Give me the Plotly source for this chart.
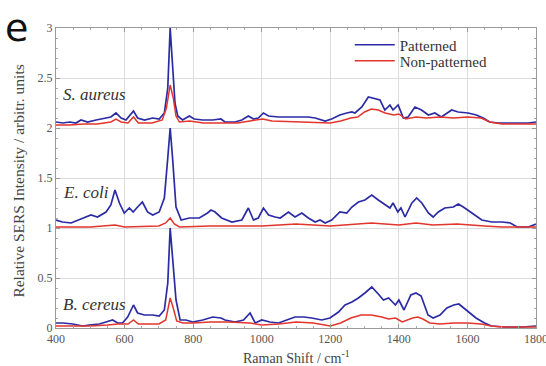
import plotly.graph_objects as go

# ---- data ----
sa_p_x = [400, 420, 440, 458, 473, 492, 517, 546, 560, 575, 590, 604, 616, 626, 638, 658, 682, 701, 716, 726, 733, 740, 747, 755, 769, 789, 803, 828, 857, 881, 893, 922, 942, 961, 976, 990, 1005, 1020, 1049, 1078, 1107, 1136, 1156, 1185, 1204, 1228, 1248, 1263, 1272, 1292, 1311, 1320, 1330, 1345, 1359, 1374, 1383, 1398, 1413, 1427, 1447, 1466, 1486, 1505, 1524, 1554, 1573, 1602, 1626, 1646, 1665, 1690, 1738, 1777, 1800]
sa_p_y = [2.06, 2.05, 2.06, 2.05, 2.08, 2.06, 2.08, 2.10, 2.11, 2.15, 2.10, 2.08, 2.13, 2.17, 2.10, 2.08, 2.10, 2.09, 2.15, 2.40, 3.00, 2.60, 2.25, 2.12, 2.08, 2.12, 2.09, 2.08, 2.08, 2.09, 2.06, 2.06, 2.08, 2.12, 2.09, 2.10, 2.15, 2.12, 2.11, 2.11, 2.11, 2.11, 2.10, 2.07, 2.09, 2.13, 2.15, 2.16, 2.15, 2.21, 2.31, 2.30, 2.29, 2.28, 2.18, 2.23, 2.18, 2.23, 2.10, 2.11, 2.21, 2.18, 2.13, 2.15, 2.11, 2.18, 2.16, 2.15, 2.13, 2.10, 2.06, 2.05, 2.05, 2.05, 2.06]

sa_n_x = [400, 440, 480, 520, 560, 575, 590, 610, 626, 640, 680, 710, 722, 733, 742, 750, 760, 790, 830, 880, 930, 965, 1003, 1030, 1100, 1150, 1200, 1230, 1260, 1280, 1300, 1320, 1340, 1360, 1385, 1400, 1420, 1450, 1480, 1520, 1560, 1600, 1640, 1665, 1700, 1750, 1800]
sa_n_y = [2.03, 2.03, 2.04, 2.04, 2.06, 2.09, 2.06, 2.05, 2.11, 2.05, 2.05, 2.08, 2.20, 2.43, 2.30, 2.12, 2.06, 2.07, 2.05, 2.05, 2.05, 2.07, 2.09, 2.07, 2.06, 2.06, 2.05, 2.07, 2.10, 2.11, 2.16, 2.19, 2.18, 2.15, 2.13, 2.14, 2.09, 2.11, 2.10, 2.11, 2.10, 2.11, 2.10, 2.06, 2.04, 2.04, 2.04]

ec_p_x = [400, 419, 444, 468, 487, 502, 521, 546, 560, 572, 585, 599, 614, 625, 638, 652, 667, 682, 701, 716, 726, 733, 740, 750, 765, 789, 818, 842, 852, 864, 883, 913, 942, 961, 976, 990, 1005, 1020, 1039, 1054, 1078, 1097, 1117, 1136, 1156, 1170, 1185, 1204, 1228, 1248, 1263, 1282, 1301, 1321, 1340, 1360, 1374, 1383, 1397, 1406, 1418, 1438, 1452, 1467, 1486, 1500, 1515, 1534, 1559, 1573, 1588, 1613, 1642, 1671, 1701, 1725, 1745, 1778, 1800]
ec_p_y = [1.08, 1.06, 1.05, 1.08, 1.11, 1.13, 1.11, 1.16, 1.23, 1.38, 1.25, 1.15, 1.20, 1.16, 1.21, 1.26, 1.16, 1.13, 1.16, 1.30, 1.70, 2.00, 1.70, 1.21, 1.08, 1.10, 1.10, 1.15, 1.18, 1.16, 1.10, 1.06, 1.08, 1.20, 1.08, 1.10, 1.20, 1.13, 1.11, 1.10, 1.16, 1.11, 1.15, 1.10, 1.06, 1.08, 1.05, 1.08, 1.16, 1.15, 1.21, 1.26, 1.28, 1.33, 1.28, 1.23, 1.20, 1.25, 1.16, 1.20, 1.11, 1.25, 1.30, 1.25, 1.15, 1.11, 1.16, 1.20, 1.21, 1.24, 1.21, 1.15, 1.08, 1.06, 1.06, 1.05, 1.01, 1.01, 1.04]

ec_n_x = [400, 500, 572, 600, 700, 720, 733, 745, 760, 850, 1000, 1100, 1200, 1320, 1400, 1450, 1500, 1570, 1650, 1700, 1800]
ec_n_y = [1.01, 1.01, 1.03, 1.01, 1.02, 1.05, 1.10, 1.04, 1.01, 1.02, 1.02, 1.04, 1.02, 1.05, 1.03, 1.05, 1.03, 1.04, 1.02, 1.01, 1.01]

bc_p_x = [400, 420, 449, 478, 497, 526, 546, 565, 580, 594, 609, 626, 638, 658, 682, 701, 716, 726, 733, 740, 750, 762, 779, 799, 828, 857, 881, 893, 922, 947, 966, 981, 1000, 1024, 1049, 1073, 1097, 1122, 1146, 1175, 1199, 1224, 1243, 1263, 1282, 1301, 1321, 1340, 1355, 1370, 1390, 1400, 1415, 1435, 1450, 1465, 1485, 1500, 1520, 1540, 1560, 1575, 1600, 1625, 1650, 1670, 1710, 1760, 1800]
bc_p_y = [0.05, 0.05, 0.04, 0.02, 0.03, 0.04, 0.06, 0.08, 0.05, 0.05, 0.11, 0.23, 0.15, 0.13, 0.13, 0.12, 0.18, 0.45, 1.00, 0.70, 0.28, 0.08, 0.08, 0.06, 0.08, 0.11, 0.10, 0.08, 0.06, 0.08, 0.15, 0.05, 0.08, 0.06, 0.05, 0.08, 0.11, 0.11, 0.10, 0.08, 0.10, 0.16, 0.23, 0.26, 0.30, 0.35, 0.41, 0.34, 0.28, 0.30, 0.23, 0.28, 0.18, 0.33, 0.35, 0.32, 0.13, 0.10, 0.13, 0.20, 0.23, 0.24, 0.17, 0.10, 0.05, 0.02, 0.01, 0.01, 0.02]

bc_n_x = [400, 450, 500, 550, 580, 610, 626, 640, 700, 720, 733, 742, 752, 770, 800, 850, 900, 966, 1000, 1050, 1100, 1150, 1200, 1230, 1260, 1290, 1320, 1350, 1370, 1390, 1410, 1440, 1455, 1470, 1490, 1520, 1560, 1600, 1640, 1670, 1700, 1800]
bc_n_y = [0.02, 0.02, 0.02, 0.03, 0.04, 0.04, 0.08, 0.04, 0.04, 0.08, 0.30, 0.20, 0.07, 0.05, 0.05, 0.06, 0.06, 0.05, 0.03, 0.04, 0.06, 0.05, 0.02, 0.05, 0.10, 0.13, 0.13, 0.11, 0.09, 0.10, 0.06, 0.10, 0.11, 0.09, 0.05, 0.04, 0.05, 0.05, 0.04, 0.02, 0.01, 0.01]

x_ticks = [400, 600, 800, 1000, 1200, 1400, 1600, 1800]
y_ticks = [0, 0.5, 1, 1.5, 2, 2.5, 3]
y_tick_text = ["0", "0.5", "1", "1.5", "2", "2.5", "3"]
species = ["S. aureus", "E. coli", "B. cereus"]
species_y = [2.34, 1.36, 0.24]

BLUE = "#2b2ba6"
RED = "#e2352c"
SERIF = "Liberation Serif, Times New Roman, DejaVu Serif, serif"

fig = go.Figure()
blue_sets = [(sa_p_x, sa_p_y), (ec_p_x, ec_p_y), (bc_p_x, bc_p_y)]
red_sets = [(sa_n_x, sa_n_y), (ec_n_x, ec_n_y), (bc_n_x, bc_n_y)]
for i, (xs, ys) in enumerate(blue_sets):
    fig.add_trace(go.Scatter(x=xs, y=ys, mode="lines", name="Patterned",
                             line=dict(color=BLUE, width=1.7), showlegend=(i == 0),
                             legend="legend"))
for i, (xs, ys) in enumerate(red_sets):
    fig.add_trace(go.Scatter(x=xs, y=ys, mode="lines", name="Non-patterned",
                             line=dict(color=RED, width=1.5), showlegend=(i == 0),
                             legend="legend2"))

for name, yv in zip(species, species_y):
    fig.add_annotation(x=415, y=yv, xref="x", yref="y", text="<i>" + name + "</i>",
                       showarrow=False, xanchor="left", yanchor="middle",
                       font=dict(family=SERIF, size=17, color="#333"))

fig.add_annotation(x=-0.11, y=1.08, xref="paper", yref="paper", text="e",
                   showarrow=False, xanchor="left", yanchor="top",
                   font=dict(family="DejaVu Sans", size=38, color="#111"))

# axis titles as annotations for precise placement
fig.add_annotation(x=0.5, y=-0.097, xref="paper", yref="paper",
                   text="Raman Shift / cm<sup>-1</sup>", showarrow=False,
                   xanchor="center", yanchor="middle",
                   font=dict(family=SERIF, size=14, color="#444"))
fig.add_annotation(x=-0.08, y=0.49, xref="paper", yref="paper",
                   text="Relative SERS Intensity / arbitr. units", showarrow=False,
                   textangle=-90, xanchor="center", yanchor="middle",
                   font=dict(family=SERIF, size=15.5, color="#444"))

axis_common = dict(showline=True, linecolor="#9a9a9a", linewidth=1, mirror="allticks",
                   ticks="inside", ticklen=4, tickcolor="#999", showgrid=True,
                   gridcolor="#dcdcdc", gridwidth=1, zeroline=False,
                   ticklabeloverflow="allow", automargin=False,
                   tickfont=dict(family=SERIF, size=12, color="#555"))

fig.update_xaxes(range=[400, 1800], tickvals=x_ticks,
                 minor=dict(dtick=50, ticks="inside", ticklen=2, tickcolor="#aaa", showgrid=False),
                 **axis_common)
fig.update_yaxes(range=[0, 3], tickvals=y_ticks, ticktext=y_tick_text,
                 minor=dict(dtick=0.1, ticks="inside", ticklen=2, tickcolor="#aaa", showgrid=False),
                 **axis_common)

legend_common = dict(xanchor="left", yanchor="middle", bgcolor="rgba(255,255,255,0)",
                     font=dict(family=SERIF, size=15, color="#333"), itemwidth=40)
fig.update_layout(
    width=546, height=366,
    margin=dict(l=56, r=10, t=28, b=38, autoexpand=False),
    paper_bgcolor="white", plot_bgcolor="white",
    legend=dict(x=0.612, y=(328 - 45) / 300, **legend_common),
    legend2=dict(x=0.612, y=(328 - 61) / 300, **legend_common),
)

fig.write_html("out.html", config={"displayModeBar": False},
               post_script="document.body.style.margin='0';document.body.style.padding='0';")
